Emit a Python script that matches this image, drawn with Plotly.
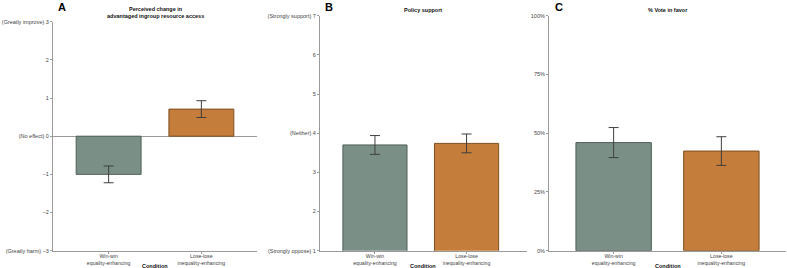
import plotly.graph_objects as go

conditions = ["Win-win<br>equality-enhancing", "Lose-lose<br>inequality-enhancing"]
bar_colors = ["#7a8f86", "#c47d3a"]
line_colors = ["#4f5f58", "#7d4f22"]

perceived_mean = [-1.00, 0.71]
perceived_err = [0.22, 0.22]

policy_mean = [3.70, 3.74]
policy_err = [0.24, 0.24]

vote_mean = [46.0, 42.4]
vote_err = [6.4, 6.1]

a_ticks = [-3, -2, -1, 0, 1, 2, 3]
a_labels = ["(Greatly harm) \u22123", "\u22122", "\u22121", "(No effect) 0", "1", "2", "(Greatly improve) 3"]
b_ticks = [1, 2, 3, 4, 5, 6, 7]
b_labels = ["(Strongly oppose) 1", "2", "3", "(Neither) 4", "5", "6", "(Strongly support) 7"]
c_ticks = [0, 25, 50, 75, 100]
c_labels = ["0%", "25%", "50%", "75%", "100%"]

W, H = 787, 268
FONT = "Liberation Sans, Arial, sans-serif"

fig = go.Figure()

panels = [
    ("", perceived_mean, perceived_err),
    ("2", policy_mean, policy_err),
    ("3", vote_mean, vote_err),
]
for suffix, means, errs in panels:
    fig.add_trace(go.Bar(
        x=[0, 1], y=means, width=0.7,
        marker=dict(color=bar_colors, line=dict(color=line_colors, width=1)),
        error_y=dict(type="data", array=errs, color="#3f3f3f", thickness=1, width=5),
        xaxis="x" + suffix, yaxis="y" + suffix, showlegend=False,
    ))

def px_x(p):
    return p / W

def px_y(p):
    return (H - p) / H

axis_line = "#9a9a9a"
tickfont = dict(family=FONT, size=5.5, color="#444444")

def xaxis(domain, rng, anchor):
    return dict(
        domain=domain, range=rng, anchor=anchor, automargin=False,
        tickvals=[0, 1], ticktext=conditions, tickfont=dict(family=FONT, size=5.2, color="#444444"),
        showline=True, linecolor=axis_line, linewidth=1,
        ticks="outside", ticklen=2, tickcolor=axis_line, ticklabelstandoff=-2,
        showgrid=False, zeroline=False, fixedrange=True,
    )

def yaxis(domain, rng, tv, tt, anchor, zeroline=False):
    return dict(
        domain=domain, range=rng, anchor=anchor, automargin=False,
        tickvals=tv, ticktext=tt, tickfont=tickfont,
        showline=True, linecolor=axis_line, linewidth=1,
        ticks="outside", ticklen=2, tickcolor=axis_line,
        showgrid=False, zeroline=zeroline, zerolinecolor=axis_line, zerolinewidth=1,
        fixedrange=True,
    )

bottom = px_y(250.7)
fig.update_layout(
    width=W, height=H,
    margin=dict(l=0, r=0, t=0, b=0, autoexpand=False),
    paper_bgcolor="white", plot_bgcolor="white",
    font=dict(family=FONT),
    bargap=0.3,
    xaxis=xaxis([px_x(53), px_x(257)], [-0.6, 1.6], "y"),
    yaxis=yaxis([bottom, px_y(21.7)], [-3, 3], a_ticks, a_labels, "x", zeroline=True),
    xaxis2=xaxis([px_x(320), px_x(527)], [-0.6, 1.66], "y2"),
    yaxis2=yaxis([bottom, px_y(15.7)], [1, 7], b_ticks, b_labels, "x2"),
    xaxis3=xaxis([px_x(549), px_x(786)], [-0.6, 1.6], "y3"),
    yaxis3=yaxis([bottom, px_y(15.7)], [0, 100], c_ticks, c_labels, "x3"),
)

titles = [
    (155, 12.5, "<b>Perceived change in<br>advantaged ingroup resource access</b>"),
    (423, 10, "<b>Policy support</b>"),
    (668, 10, "<b>% Vote in favor</b>"),
]
for x, y, t in titles:
    fig.add_annotation(x=px_x(x), y=px_y(y), xref="paper", yref="paper", text=t,
                       showarrow=False, font=dict(family=FONT, size=5.5, color="#111111"),
                       xanchor="center", yanchor="middle", align="center")

for x in [155, 423, 668]:
    fig.add_annotation(x=px_x(x), y=px_y(265.5), xref="paper", yref="paper", text="<b>Condition</b>",
                       showarrow=False, font=dict(family=FONT, size=5.5, color="#111111"),
                       xanchor="center", yanchor="middle")

letters = [(62, "A"), (329, "B"), (559, "C")]
for x, t in letters:
    fig.add_annotation(x=px_x(x), y=px_y(7), xref="paper", yref="paper", text="<b>%s</b>" % t,
                       showarrow=False, font=dict(family=FONT, size=11, color="#000000"),
                       xanchor="center", yanchor="middle")

fig.write_html("out.html", config={"displayModeBar": False},
               post_script="document.body.style.margin='0';document.body.style.padding='0';document.body.style.overflow='hidden';")
